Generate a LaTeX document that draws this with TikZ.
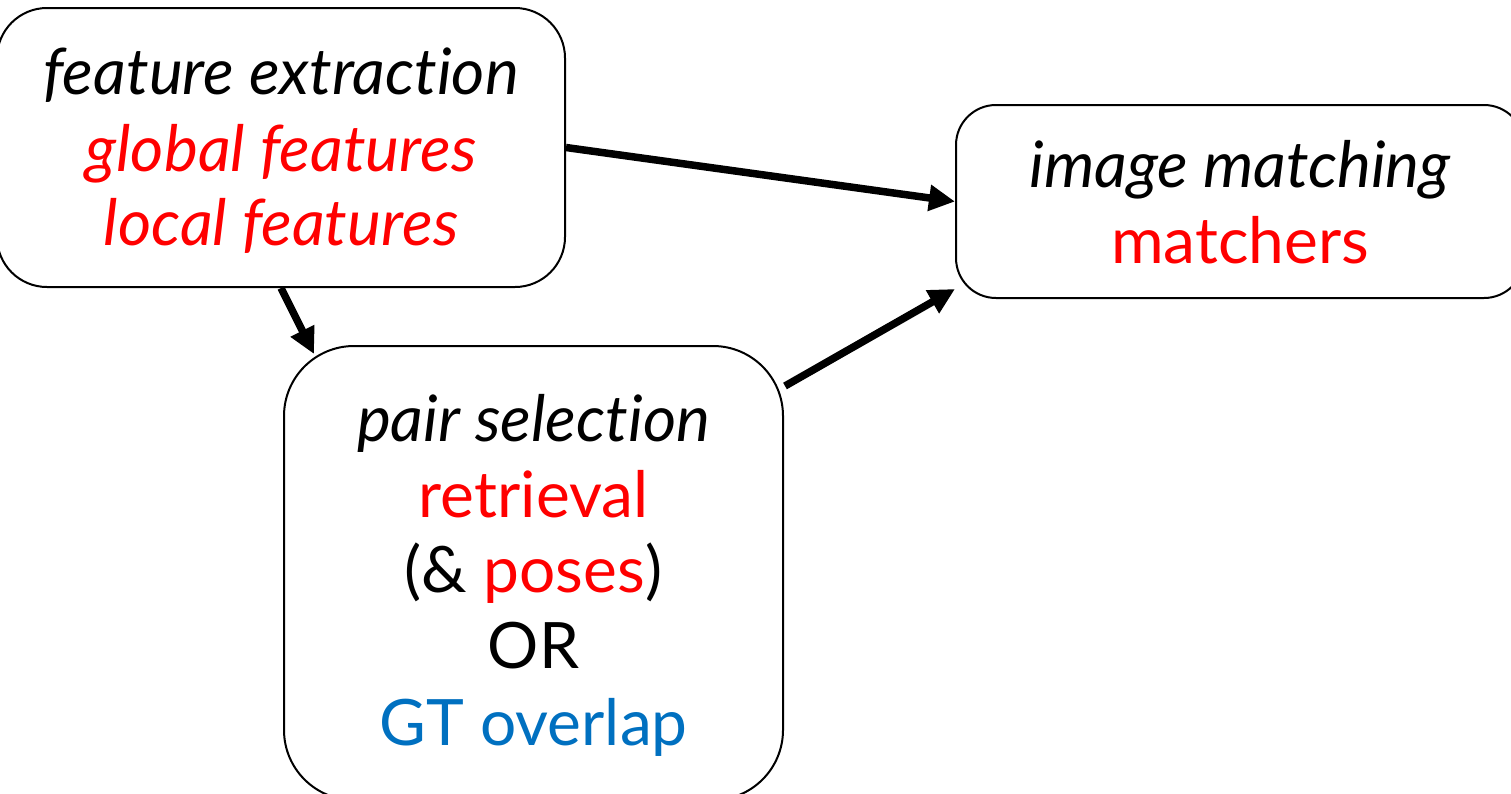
\documentclass[tikz,border=0pt]{standalone}
\usepackage{fontspec}
\setmainfont{Lato}[Ligatures={NoCommon}]
\usetikzlibrary{arrows.meta,calc}
\definecolor{myred}{RGB}{255,0,0}
\definecolor{myblue}{RGB}{0,112,192}
\begin{document}
\begin{tikzpicture}[x=1pt,y=-1pt,
  box/.style={draw=black, line width=2pt, fill=white, inner sep=0pt},
  txt/.style={anchor=base, inner sep=0pt, font=\fontsize{64}{76}\selectfont},
  arr/.style={line width=7.5pt, -{Triangle[length=26pt,width=25pt]}}]
\useasboundingbox (0,0) rectangle (1511,793);
\clip (0,0) rectangle (1511,793);
\node[box, rounded corners=50pt, minimum width=568pt, minimum height=279pt] (b1) at (281,147.5) {};
\node[box, rounded corners=40pt, minimum width=568pt, minimum height=193pt] (b2) at (1240,201.5) {};
\node[box, rounded corners=70pt, minimum width=499pt, minimum height=454pt] (b3) at (533.5,573) {};
% box 1 text
\node[txt] (t11) at (281,94) {\itshape feature extraction};
\node[txt, text=myred] (t12) at (281,171) {\itshape global features};
\node[txt, text=myred] (t13) at (281,245) {\itshape local features};
% box 2 text
\node[txt] (t21) at (1240,187) {\itshape image matching};
\node[txt, text=myred] (t22) at (1240,263) {matchers};
% box 3 text
\node[txt] (t31) at (533.5,441) {\itshape pair selection};
\node[txt, text=myred] (t32) at (533.5,517) {retrieval};
\node[txt] (t33) at (533.5,592) {(\&~\textcolor{myred}{poses})};
\node[txt] (t34) at (533.5,668) {OR};
\node[txt, text=myblue] (t35) at (533.5,745) {GT overlap};
% connectors
\coordinate (e2) at ($(b3.north west)+(31,9)$);
\coordinate (s3) at ($(b3.north east)+(1,41)$);
\coordinate (e3) at ($(b2.south west)+(0,-10)$);
\draw[arr] (b1.east) -- (b2.west);
\draw[arr] (b1.south) -- (e2);
\draw[arr] (s3) -- (e3);
\end{tikzpicture}
\end{document}
